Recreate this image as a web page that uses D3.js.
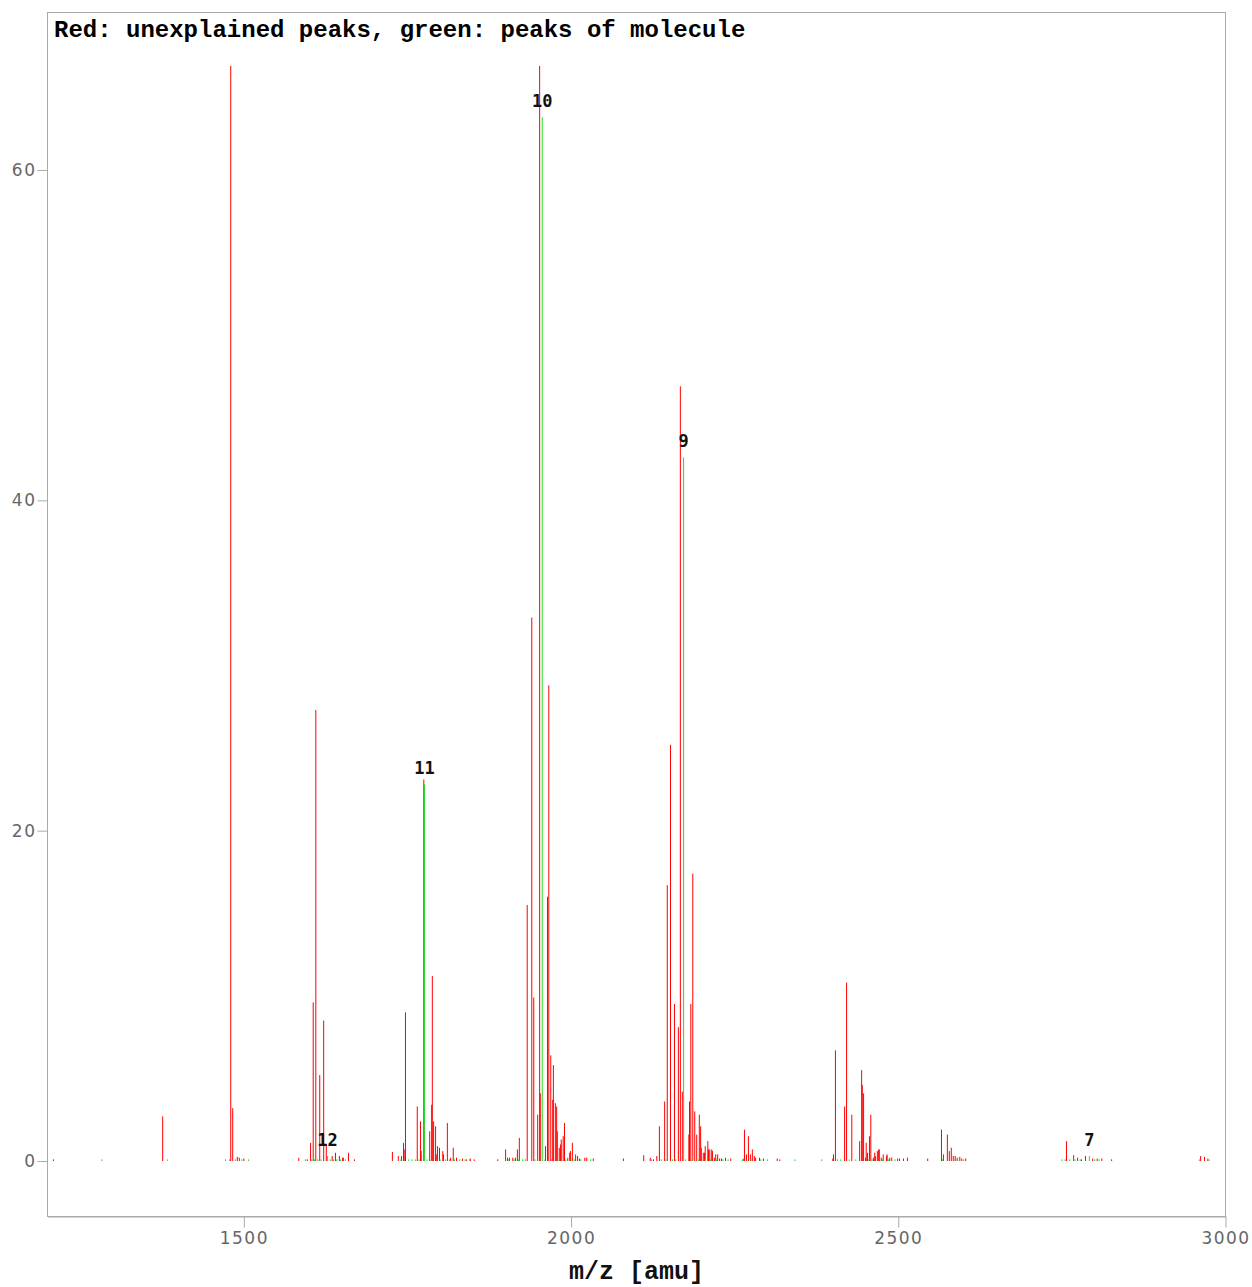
<!DOCTYPE html>
<html>
<head>
<meta charset="utf-8">
<script src="https://cdn.jsdelivr.net/npm/d3@7"></script>
<style>
  html, body { margin: 0; padding: 0; background: #fff; }
  svg { display: block; }
</style>
</head>
<body>
<svg id="chart" width="1252" height="1287"></svg>
<script>
// ---- data (m/z, intensity) ----
const titleText = "Red: unexplained peaks, green: peaks of molecule";
const xLabel = "m/z [amu]";
const xTicks = [1500, 2000, 2500, 3000];
const yTicks = [0, 20, 40, 60];

const redMz = [
  1209, 1376, 1480, 1483, 1490, 1493, 1500,
  1584, 1597, 1602, 1606, 1610, 1616, 1622, 1626, 1635, 1640, 1646, 1651, 1652, 1660, 1669,
  1727, 1736, 1741, 1744, 1746, 1747, 1765, 1770, 1771, 1775, 1784, 1787, 1788, 1790, 1793, 1794, 1796, 1799, 1804, 1805, 1811, 1816, 1820, 1825, 1834, 1840, 1846, 1852,
  1888, 1900, 1903, 1906, 1911, 1915, 1918, 1921, 1933, 1940, 1943, 1949, 1952, 1953, 1961, 1964, 1966, 1969, 1972, 1973, 1976, 1978, 1979, 1982, 1984, 1985, 1988, 1990, 1995, 1998, 1999, 2002, 2007, 2010, 2013, 2021, 2024, 2034, 2080,
  2111, 2121, 2126, 2131, 2135, 2143, 2147, 2152, 2158, 2164, 2167, 2170, 2180, 2181, 2183, 2186, 2189, 2192, 2196, 2198, 2199, 2202, 2204, 2205, 2209, 2210, 2212, 2215, 2216, 2219, 2221, 2224, 2227, 2230, 2236, 2244,
  2264, 2265, 2268, 2271, 2274, 2277, 2280, 2282, 2288, 2294, 2315, 2319,
  2400, 2401, 2404, 2418, 2421, 2429, 2441, 2444, 2445, 2447, 2450, 2451, 2453, 2456, 2458, 2462, 2464, 2465, 2468, 2470, 2471, 2474, 2477, 2482, 2483, 2487, 2490, 2499, 2502, 2508, 2514, 2545,
  2566, 2569, 2575, 2578, 2581, 2584, 2587, 2590, 2594, 2597, 2603,
  2757, 2768, 2774, 2780, 2786, 2797, 2804, 2811, 2826, 2962, 2968, 2973
];
const redIntensity = [
  0.1, 2.7, 66.3, 3.2, 0.25, 0.2, 0.15,
  0.2, 0.1, 1.1, 9.6, 27.3, 5.2, 8.5, 1.0, 0.3, 0.5, 0.3, 0.2, 0.2, 0.5, 0.1,
  0.55, 0.3, 0.3, 1.1, 0.7, 9.0, 3.3, 2.4, 0.6, 23.1, 1.8, 3.4, 11.2, 2.4, 2.1, 0.4, 0.9, 0.8, 0.6, 0.4, 2.3, 0.2, 0.8, 0.2, 0.15, 0.1, 0.15, 0.1,
  0.1, 0.7, 0.2, 0.2, 0.2, 0.2, 0.7, 1.4, 15.5, 32.9, 9.9, 2.8, 66.3, 4.1, 0.9, 16.0, 28.8, 6.4, 3.7, 5.8, 3.5, 3.3, 1.8, 0.8, 1.0, 1.3, 1.5, 2.3, 0.2, 0.5, 0.6, 1.1, 0.4, 0.3, 0.15, 0.2, 0.2, 0.15, 0.15,
  0.35, 0.2, 0.1, 0.3, 2.1, 3.6, 16.7, 25.2, 9.5, 8.1, 46.9, 4.2, 1.6, 3.6, 9.5, 17.4, 3.0, 1.6, 2.8, 2.1, 0.8, 0.5, 0.5, 0.9, 1.2, 0.7, 0.7, 0.7, 0.6, 0.2, 0.4, 0.4, 0.15, 0.15, 0.2, 0.15,
  0.15, 1.9, 0.4, 1.5, 0.4, 0.7, 0.3, 0.2, 0.2, 0.15, 0.15, 0.1,
  0.15, 0.4, 6.7, 3.3, 10.8, 2.8, 1.2, 5.5, 4.6, 4.1, 0.2, 1.1, 0.5, 1.5, 2.8, 0.2, 0.5, 0.3, 0.6, 0.7, 0.7, 0.2, 0.4, 0.3, 0.4, 0.2, 0.2, 0.15, 0.15, 0.15, 0.2, 0.15,
  1.9, 0.4, 1.6, 0.6, 0.8, 0.3, 0.3, 0.2, 0.25, 0.15, 0.15,
  1.2, 0.35, 0.2, 0.1, 0.3, 0.15, 0.15, 0.15, 0.1, 0.3, 0.25, 0.15
];

const greenMz = [
  1283, 1383, 1472, 1478, 1487, 1497, 1507,
  1594, 1604, 1608, 1613, 1618, 1628, 1632, 1637, 1642, 1648, 1655,
  1740, 1752, 1757, 1762, 1768, 1776, 1780, 1786, 1800, 1808, 1814, 1822, 1830, 1838, 1845,
  1905, 1913, 1920, 1926, 1930, 1945, 1956, 1960, 1970, 1980, 1992, 2000, 2005, 2015, 2030,
  2123, 2138, 2145, 2155, 2160, 2172, 2175, 2185, 2195, 2205, 2213, 2222, 2232, 2240,
  2262, 2275, 2290, 2300, 2342,
  2383, 2407, 2412, 2425, 2435, 2455, 2460, 2476, 2485, 2495,
  2568, 2585, 2600,
  2750, 2755, 2762, 2770, 2778, 2792, 2800, 2807, 2960, 2975
];
const greenIntensity = [
  0.1, 0.1, 0.1, 0.1, 0.1, 0.1, 0.1,
  0.1, 0.1, 0.1, 0.1, 0.1, 0.3, 0.1, 0.1, 0.1, 0.1, 0.1,
  0.1, 0.1, 0.1, 0.1, 0.1, 22.8, 0.1, 0.1, 0.1, 0.1, 0.1, 0.1, 0.1, 0.1, 0.1,
  0.1, 0.1, 0.1, 0.1, 0.1, 0.1, 63.2, 0.1, 0.1, 0.1, 0.1, 0.1, 0.1, 0.1, 0.1,
  0.1, 0.1, 0.1, 0.1, 0.1, 42.6, 0.1, 0.1, 0.1, 0.1, 0.1, 0.1, 0.1, 0.1,
  0.1, 0.1, 0.1, 0.1, 0.1,
  0.1, 0.1, 0.1, 0.1, 0.1, 0.1, 0.1, 0.1, 0.1, 0.1,
  0.1, 0.1, 0.1,
  0.1, 0.1, 0.1, 0.1, 0.1, 0.3, 0.1, 0.1, 0.1, 0.1
];

const labelMz = [1628, 1776, 1956, 2172, 2792];
const labelText = ["12", "11", "10", "9", "7"];

// ---- drawing ----
const svg = d3.select("#chart");
const L = 47.5, R = 1225.5, T = 12.5, B = 1216.5;

const x = d3.scaleLinear().domain([1200, 3000]).range([L, R]);
const y = d3.scaleLinear().domain([0, 60]).range([1161, 170]);

const gridCol = "#aaaaaa";

// frame
svg.append("rect")
  .attr("x", L).attr("y", T)
  .attr("width", R - L).attr("height", B - T)
  .attr("fill", "none").attr("stroke", gridCol).attr("stroke-width", 1);

// y axis
const yAxis = d3.axisLeft(y).tickValues(yTicks).tickSize(10).tickSizeOuter(0).tickPadding(3);
const gy = svg.append("g").attr("transform", `translate(${L},0)`).call(yAxis);
gy.select(".domain").remove();
gy.selectAll(".tick line").attr("stroke", gridCol);
gy.selectAll(".tick text")
  .attr("fill", "#666").attr("font-family", "DejaVu Sans")
  .attr("font-size", 17).attr("letter-spacing", "1.5px")
  .attr("dx", "2px");

// x axis
const xAxis = d3.axisBottom(x).tickValues(xTicks).tickSize(11).tickSizeOuter(0).tickPadding(4).tickFormat(d3.format("d"));
const gx = svg.append("g").attr("transform", `translate(0,${B})`).call(xAxis);
gx.select(".domain").attr("stroke", gridCol);
gx.selectAll(".tick line").attr("stroke", gridCol);
gx.selectAll(".tick text")
  .attr("fill", "#666").attr("font-family", "DejaVu Sans")
  .attr("font-size", 17).attr("letter-spacing", "1.5px");

// red peaks
const redData = redMz.map((m, i) => ({ m, v: redIntensity[i] }));
svg.append("g").selectAll("line").data(redData).join("line")
  .attr("x1", d => x(d.m)).attr("x2", d => x(d.m))
  .attr("y1", y(0)).attr("y2", d => y(d.v))
  .attr("stroke", "#ff0000").attr("stroke-width", 1);

// green peaks
const greenData = greenMz.map((m, i) => ({ m, v: greenIntensity[i] }));
svg.append("g").selectAll("line").data(greenData).join("line")
  .attr("x1", d => x(d.m)).attr("x2", d => x(d.m))
  .attr("y1", y(0)).attr("y2", d => y(d.v))
  .attr("stroke", "#22dd22").attr("stroke-width", 1);

// peak labels
const labData = labelMz.map((m, i) => {
  const gi = greenMz.indexOf(m);
  return { m, t: labelText[i], v: greenIntensity[gi] };
});
svg.append("g").selectAll("text").data(labData).join("text")
  .attr("x", d => x(d.m)).attr("y", d => y(d.v) - 10)
  .attr("text-anchor", "middle")
  .attr("font-family", "DejaVu Sans Mono").attr("font-weight", "bold")
  .attr("font-size", 17).attr("fill", "#111")
  .text(d => d.t);

// title
svg.append("text")
  .attr("x", 54).attr("y", 37)
  .attr("font-family", "Liberation Mono").attr("font-weight", "bold")
  .attr("font-size", 24).attr("fill", "#000")
  .text(titleText);

// x label
svg.append("text")
  .attr("x", (L + R) / 2).attr("y", 1279)
  .attr("text-anchor", "middle")
  .attr("font-family", "Liberation Mono").attr("font-weight", "bold")
  .attr("font-size", 25).attr("fill", "#111")
  .text(xLabel);
</script>
</body>
</html>
